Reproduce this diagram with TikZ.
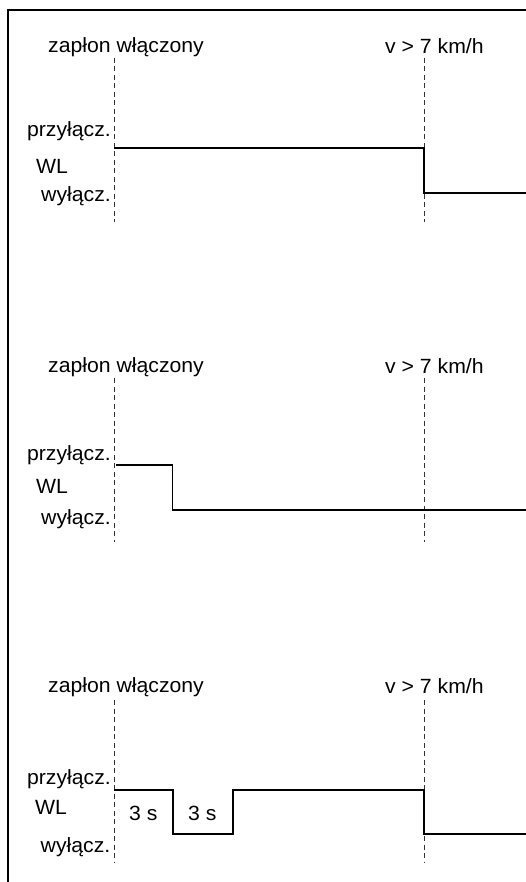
\documentclass[tikz,border=0pt]{standalone}
\usepackage{fontspec}
\setmainfont[FakeStretch=1.03]{Liberation Sans}
\begin{document}
\begin{tikzpicture}[x=1pt,y=-1pt,
  lbl/.style={inner sep=0pt,font=\fontsize{20.6}{24}\selectfont},
  lblw/.style={lbl,anchor=base west},
  lble/.style={lbl,anchor=base east},
  guide/.style={line width=0.8pt,color=black!80,dash pattern=on 5pt off 3.5pt},
  sig/.style={line width=1.8pt,line join=miter},
  frame/.style={line width=2.6pt}]
\useasboundingbox (0,0) rectangle (526,882);
\draw[frame] (526,10) -- (8,10) -- (8,882);

% ---------- panel 1
\node[lblw] (z1) at (48,52.5) {zapłon włączony};
\node[lblw] (v1) at (385,53.5) {v > 7 km/h};
\node[lble] (p1) at (111,136.5) {przyłącz.};
\node[lblw] (w1) at (36,173.5) {WL};
\node[lble] (o1) at (111,201.5) {wyłącz.};
\coordinate (a1t) at (114,58); \coordinate (a1b) at (114,222);
\coordinate (b1t) at (424,58); \coordinate (b1b) at (424,222);
\draw[guide] (a1t) -- (a1b);
\draw[guide] (b1t) -- (b1b);
\coordinate (s1a) at (114,147.7);
\coordinate (s1b) at (424,147.7);
\coordinate (s1c) at (424,192.7);
\coordinate (s1d) at (526,192.7);
\draw[sig] (s1a) -- (s1b) -- (s1c) -- (s1d);

% ---------- panel 2
\node[lblw] (z2) at (48,372.5) {zapłon włączony};
\node[lblw] (v2) at (385,373.5) {v > 7 km/h};
\node[lble] (p2) at (111,460.5) {przyłącz.};
\node[lblw] (w2) at (36,493) {WL};
\node[lble] (o2) at (111,524.5) {wyłącz.};
\coordinate (a2t) at (114,378); \coordinate (a2b) at (114,542);
\coordinate (b2t) at (424,378); \coordinate (b2b) at (424,542);
\draw[guide] (a2t) -- (a2b);
\draw[guide] (b2t) -- (b2b);
\coordinate (s2a) at (116,465);
\coordinate (s2b) at (172.5,465);
\coordinate (s2c) at (172.5,510);
\coordinate (s2d) at (526,510);
\draw[sig] (s2a) -- (s2b) -- (s2c) -- (s2d);

% ---------- panel 3
\node[lblw] (z3) at (48,692.5) {zapłon włączony};
\node[lblw] (v3) at (385,693.5) {v > 7 km/h};
\node[lble] (p3) at (111,784.5) {przyłącz.};
\node[lblw] (w3) at (35,814.5) {WL};
\node[lble] (o3) at (110.5,852.5) {wyłącz.};
\node[lblw] (t1) at (129,820) {3 s};
\node[lblw] (t2) at (188,820) {3 s};
\coordinate (a3t) at (114,700); \coordinate (a3b) at (114,862);
\coordinate (b3t) at (424,700); \coordinate (b3b) at (424,862);
\draw[guide] (a3t) -- (a3b);
\draw[guide] (b3t) -- (b3b);
\coordinate (s3a) at (114,790);
\coordinate (s3b) at (173,790);
\coordinate (s3c) at (173,834);
\coordinate (s3d) at (233.3,834);
\coordinate (s3e) at (233.3,790);
\coordinate (s3f) at (424,790);
\coordinate (s3g) at (424,834);
\coordinate (s3h) at (526,834);
\draw[sig] (s3a) -- (s3b) -- (s3c) -- (s3d) -- (s3e) -- (s3f) -- (s3g) -- (s3h);
\end{tikzpicture}
\end{document}
